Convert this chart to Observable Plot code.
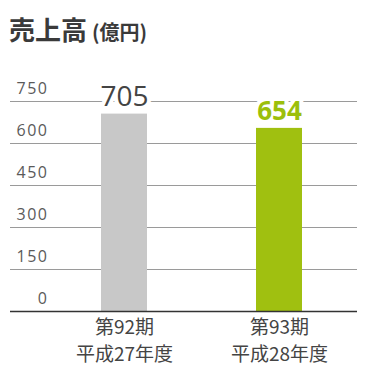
<!DOCTYPE html>
<html><head><meta charset="utf-8">
<script src="https://cdn.jsdelivr.net/npm/d3@7"></script>
<script src="https://cdn.jsdelivr.net/npm/@observablehq/plot@0.6"></script>
<style>
body{margin:0;background:#fff;font-family:"Open Sans","Noto Sans CJK JP",sans-serif;}
#title{height:55px;box-sizing:border-box;padding:14px 0 0 9px;color:#3a3a3a;font-family:"Noto Sans CJK JP",sans-serif;font-weight:bold;white-space:nowrap;line-height:30px;}
#title .main{font-size:26px;}
#title .unit{font-size:20px;margin-left:5px;}
</style></head>
<body>
<div id="title"><span class="main">売上高</span><span class="unit">(億円)</span></div>
<div id="chart"></div>
<script>
const periods = ["第92期", "第93期"];
const years = ["平成27年度", "平成28年度"];
const sales = [705, 654];
const barColors = ["#c8c8c8", "#a0c010"];
const labelColors = ["#444444", "#9cbf0c"];
const yTicks = [0, 150, 300, 450, 600, 750];

const data = periods.map((p, i) => ({period: p, year: years[i], sales: sales[i], fill: barColors[i], lc: labelColors[i]}));
const jp = '"Noto Sans CJK JP",sans-serif';

const chart = Plot.plot({
  width: 370,
  height: 325,
  marginTop: 46,
  marginBottom: 69,
  marginLeft: 10,
  marginRight: 13,
  style: {fontFamily: '"Open Sans","Noto Sans CJK JP",sans-serif', background: "white"},
  x: {domain: periods, range: [101, 302], paddingInner: 109/155, paddingOuter: 0, axis: null},
  y: {domain: [0, 750], axis: null},
  marks: [
    Plot.ruleY(yTicks.filter(d => d > 0), {stroke: "#9a9a9a", strokeWidth: 1}),
    Plot.text(yTicks, {y: d => d, frameAnchor: "left", dx: 38, dy: -13, textAnchor: "end", fontSize: 16, fill: "#5a5a5a", text: d => String(d)}),
    Plot.barY(data, {x: "period", y: "sales", fill: d => d.fill}),
    Plot.ruleY([0], {stroke: "#333", strokeWidth: 1.5}),
    Plot.text(data.filter((d, i) => i === 0), {x: "period", y: "sales", text: d => String(d.sales), lineAnchor: "bottom", dy: -8, fontSize: 28, fill: d => d.lc, fontWeight: "normal", stroke: "white", strokeWidth: 8}),
    Plot.text(data.filter((d, i) => i === 1), {x: "period", y: "sales", text: d => String(d.sales), lineAnchor: "bottom", dy: -8, fontSize: 26, fill: d => d.lc, fontWeight: "bold", stroke: "white", strokeWidth: 8}),
    Plot.text(data, {x: "period", frameAnchor: "bottom", text: "period", lineAnchor: "top", dy: 9, fontSize: 19, fill: "#444", fontFamily: jp}),
    Plot.text(data, {x: "period", frameAnchor: "bottom", text: "year", lineAnchor: "top", dy: 36, fontSize: 19, fill: "#444", fontFamily: jp})
  ]
});
document.getElementById("chart").appendChild(chart);
chart.querySelectorAll("g[aria-label='text']")[0]?.setAttribute("letter-spacing", "1.5px");
</script>
</body></html>
